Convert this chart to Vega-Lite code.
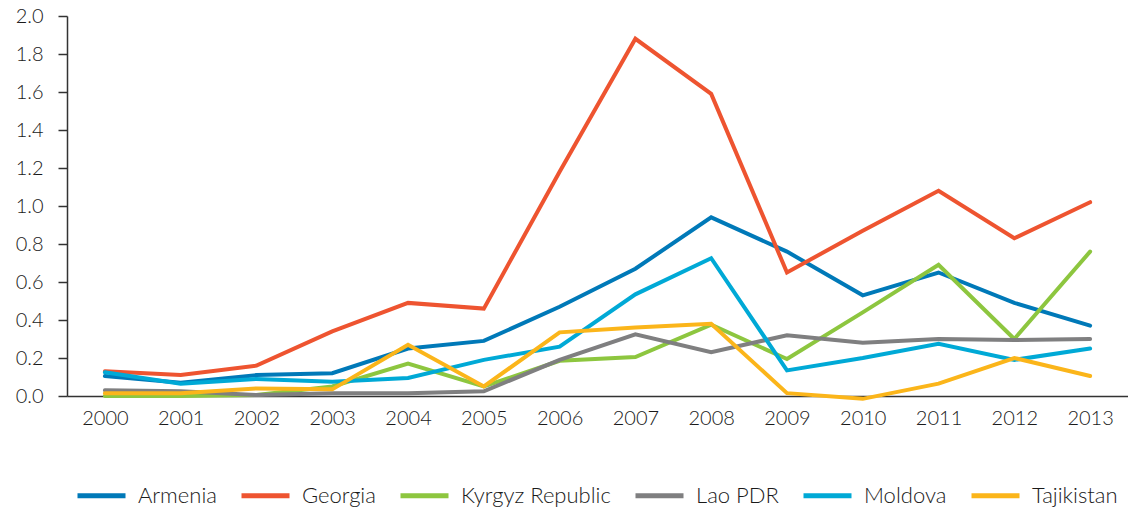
{
  "$schema": "https://vega.github.io/schema/vega-lite/v6.json",
  "width": 1061,
  "height": 380,
  "autosize": {"type": "none"},
  "padding": {"left": 67, "top": 16, "right": 0, "bottom": 112},
  "background": "#ffffff",
  "config": {
    "view": {"stroke": null},
    "font": "Lato",
    "axis": {"labelFont": "Lato", "labelColor": "#1a1a1a", "labelFontSize": 20, "labelFontWeight": 300, "grid": false, "domainColor": "#333333", "tickColor": "#333333"},
    "legend": {"labelFont": "Lato", "labelFontSize": 22, "labelFontWeight": 300, "labelColor": "#1a1a1a"}
  },
  "data": {
    "values": [
      {"year": "2000", "country": "Armenia", "v": 0.105},
      {"year": "2001", "country": "Armenia", "v": 0.07},
      {"year": "2002", "country": "Armenia", "v": 0.11},
      {"year": "2003", "country": "Armenia", "v": 0.12},
      {"year": "2004", "country": "Armenia", "v": 0.25},
      {"year": "2005", "country": "Armenia", "v": 0.29},
      {"year": "2006", "country": "Armenia", "v": 0.47},
      {"year": "2007", "country": "Armenia", "v": 0.67},
      {"year": "2008", "country": "Armenia", "v": 0.94},
      {"year": "2009", "country": "Armenia", "v": 0.76},
      {"year": "2010", "country": "Armenia", "v": 0.53},
      {"year": "2011", "country": "Armenia", "v": 0.65},
      {"year": "2012", "country": "Armenia", "v": 0.49},
      {"year": "2013", "country": "Armenia", "v": 0.37},
      {"year": "2000", "country": "Georgia", "v": 0.13},
      {"year": "2001", "country": "Georgia", "v": 0.11},
      {"year": "2002", "country": "Georgia", "v": 0.16},
      {"year": "2003", "country": "Georgia", "v": 0.34},
      {"year": "2004", "country": "Georgia", "v": 0.49},
      {"year": "2005", "country": "Georgia", "v": 0.46},
      {"year": "2006", "country": "Georgia", "v": 1.18},
      {"year": "2007", "country": "Georgia", "v": 1.88},
      {"year": "2008", "country": "Georgia", "v": 1.59},
      {"year": "2009", "country": "Georgia", "v": 0.65},
      {"year": "2010", "country": "Georgia", "v": 0.87},
      {"year": "2011", "country": "Georgia", "v": 1.08},
      {"year": "2012", "country": "Georgia", "v": 0.83},
      {"year": "2013", "country": "Georgia", "v": 1.02},
      {"year": "2000", "country": "Kyrgyz Republic", "v": 0.0},
      {"year": "2001", "country": "Kyrgyz Republic", "v": 0.0},
      {"year": "2002", "country": "Kyrgyz Republic", "v": 0.005},
      {"year": "2003", "country": "Kyrgyz Republic", "v": 0.05},
      {"year": "2004", "country": "Kyrgyz Republic", "v": 0.17},
      {"year": "2005", "country": "Kyrgyz Republic", "v": 0.05},
      {"year": "2006", "country": "Kyrgyz Republic", "v": 0.185},
      {"year": "2007", "country": "Kyrgyz Republic", "v": 0.205},
      {"year": "2008", "country": "Kyrgyz Republic", "v": 0.375},
      {"year": "2009", "country": "Kyrgyz Republic", "v": 0.195},
      {"year": "2010", "country": "Kyrgyz Republic", "v": 0.44},
      {"year": "2011", "country": "Kyrgyz Republic", "v": 0.69},
      {"year": "2012", "country": "Kyrgyz Republic", "v": 0.3},
      {"year": "2013", "country": "Kyrgyz Republic", "v": 0.76},
      {"year": "2000", "country": "Lao PDR", "v": 0.03},
      {"year": "2001", "country": "Lao PDR", "v": 0.025},
      {"year": "2002", "country": "Lao PDR", "v": 0.005},
      {"year": "2003", "country": "Lao PDR", "v": 0.015},
      {"year": "2004", "country": "Lao PDR", "v": 0.015},
      {"year": "2005", "country": "Lao PDR", "v": 0.025},
      {"year": "2006", "country": "Lao PDR", "v": 0.19},
      {"year": "2007", "country": "Lao PDR", "v": 0.325},
      {"year": "2008", "country": "Lao PDR", "v": 0.23},
      {"year": "2009", "country": "Lao PDR", "v": 0.32},
      {"year": "2010", "country": "Lao PDR", "v": 0.28},
      {"year": "2011", "country": "Lao PDR", "v": 0.30},
      {"year": "2012", "country": "Lao PDR", "v": 0.295},
      {"year": "2013", "country": "Lao PDR", "v": 0.30},
      {"year": "2000", "country": "Moldova", "v": 0.125},
      {"year": "2001", "country": "Moldova", "v": 0.065},
      {"year": "2002", "country": "Moldova", "v": 0.09},
      {"year": "2003", "country": "Moldova", "v": 0.075},
      {"year": "2004", "country": "Moldova", "v": 0.095},
      {"year": "2005", "country": "Moldova", "v": 0.19},
      {"year": "2006", "country": "Moldova", "v": 0.26},
      {"year": "2007", "country": "Moldova", "v": 0.535},
      {"year": "2008", "country": "Moldova", "v": 0.725},
      {"year": "2009", "country": "Moldova", "v": 0.135},
      {"year": "2010", "country": "Moldova", "v": 0.2},
      {"year": "2011", "country": "Moldova", "v": 0.275},
      {"year": "2012", "country": "Moldova", "v": 0.19},
      {"year": "2013", "country": "Moldova", "v": 0.25},
      {"year": "2000", "country": "Tajikistan", "v": 0.015},
      {"year": "2001", "country": "Tajikistan", "v": 0.015},
      {"year": "2002", "country": "Tajikistan", "v": 0.04},
      {"year": "2003", "country": "Tajikistan", "v": 0.035},
      {"year": "2004", "country": "Tajikistan", "v": 0.27},
      {"year": "2005", "country": "Tajikistan", "v": 0.05},
      {"year": "2006", "country": "Tajikistan", "v": 0.335},
      {"year": "2007", "country": "Tajikistan", "v": 0.36},
      {"year": "2008", "country": "Tajikistan", "v": 0.38},
      {"year": "2009", "country": "Tajikistan", "v": 0.015},
      {"year": "2010", "country": "Tajikistan", "v": -0.015},
      {"year": "2011", "country": "Tajikistan", "v": 0.065},
      {"year": "2012", "country": "Tajikistan", "v": 0.2},
      {"year": "2013", "country": "Tajikistan", "v": 0.105}
    ]
  },
  "mark": {"type": "line", "strokeWidth": 4, "strokeCap": "round", "strokeJoin": "miter"},
  "encoding": {
    "x": {
      "field": "year", "type": "ordinal",
      "scale": {"type": "point", "padding": 0.5},
      "axis": {"title": null, "labelAngle": 0, "ticks": false, "labelPadding": 12, "domainWidth": 1.5}
    },
    "y": {
      "field": "v", "type": "quantitative",
      "scale": {"domain": [0, 2], "nice": false, "zero": false},
      "axis": {"title": null, "values": [0, 0.2, 0.4, 0.6, 0.8, 1.0, 1.2, 1.4, 1.6, 1.8, 2.0], "format": ".1f", "tickSize": 9, "labelPadding": 15, "domainWidth": 1.5, "tickWidth": 1.5}
    },
    "color": {
      "field": "country", "type": "nominal",
      "scale": {
        "domain": ["Armenia", "Georgia", "Kyrgyz Republic", "Lao PDR", "Moldova", "Tajikistan"],
        "range": ["#0079B8", "#EE5430", "#8DC63F", "#7F7F80", "#00A9D6", "#FBB51A"]
      },
      "legend": {
        "title": null, "orient": "none", "direction": "horizontal",
        "legendX": 8, "legendY": 453,
        "symbolType": "stroke", "symbolSize": 2304, "symbolStrokeWidth": 5,
        "labelOffset": 10, "columnPadding": 14
      }
    }
  }
}
